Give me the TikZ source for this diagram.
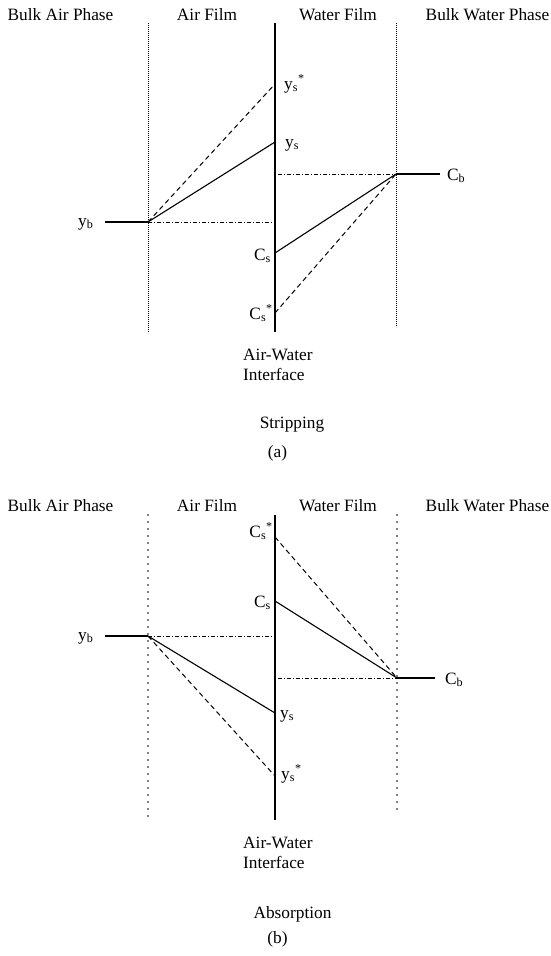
\documentclass[tikz,border=0pt]{standalone}
\usepackage{fontspec}
\setmainfont{Liberation Serif}
\usetikzlibrary{positioning}

\begin{document}
\begin{tikzpicture}[x=1pt, y=-1pt,
            every node/.style={font=\fontsize{17.3}{20}\selectfont, inner sep=0pt},
            head/.style={anchor=base},
            interface/.style={line width=1.1pt},
            thinfilm/.style={line width=0.8pt, dash pattern=on 0.8pt off 1.2pt},
            dotfilm/.style={line width=1.7pt, line cap=round, dash pattern=on 0pt off 7pt},
            profile/.style={line width=1.1pt},
            equil/.style={line width=1pt, dash pattern=on 5pt off 3.5pt},
            level/.style={line width=0.9pt, dash pattern=on 4pt off 2pt on 1pt off 2pt}]
            \useasboundingbox (0,0) rectangle (551,956);

            % (a) Stripping
            \node[head] (bapA) at (60.5,20) {Bulk Air Phase};
            \node[head] (afA) at (207,20) {Air Film};
            \node[head] (wfA) at (338,20) {Water Film};
            \node[head] (bwpA) at (487.5,20) {Bulk Water Phase};

            \draw[thinfilm] (148,23) -- (148,333);
            \draw[thinfilm] (396,23) -- (396,327);
            \draw[interface] (275,23) -- (275,332);

            \coordinate (ybA) at (148,222);
            \coordinate (ybendA) at (105,222);
            \coordinate (yblevelA) at (275,222);
            \coordinate (ysA) at (275,142);
            \coordinate (ysstarA) at (275,84);
            \coordinate (CbA) at (396,174);
            \coordinate (CbendA) at (440,174);
            \coordinate (CblevelA) at (278,174);
            \coordinate (CsA) at (275,253);
            \coordinate (CsstarA) at (275,313);

            \draw[profile] (ybendA) -- (ybA);
            \draw[level] (ybA) -- (yblevelA);
            \draw[profile] (ybA) -- (ysA);
            \draw[equil] (ybA) -- (ysstarA);
            \draw[profile] (CbA) -- (CbendA);
            \draw[level] (CblevelA) -- (CbA);
            \draw[profile] (CsA) -- (CbA);
            \draw[equil] (CsstarA) -- (CbA);

            \node[anchor=base west] (ysstarlabA) at (284,89) {y\textsubscript{s}\textsuperscript{*}};
            \node[anchor=base west] (yslabA) at (285,147) {y\textsubscript{s}};
            \node[anchor=base west] (yblabA) at (78,226) {y\textsubscript{b}};
            \node[anchor=base west] (CblabA) at (447,180) {C\textsubscript{b}};
            \node[anchor=base east] (CslabA) at (271,260) {C\textsubscript{s}};
            \node[anchor=base east] (CsstarlabA) at (273,319) {C\textsubscript{s}\textsuperscript{*}};

            \node[anchor=base west] (awA) at (243,360) {Air-Water};
            \node[anchor=base west] (ifA) at (243,380) {Interface};
            \node[head] (stripA) at (292,428) {Stripping};
            \node[head] (tagA) at (277.5,457) {(a)};

            % (b) Absorption
            \node[head] (bapB) at (60.5,511) {Bulk Air Phase};
            \node[head] (afB) at (207,511) {Air Film};
            \node[head] (wfB) at (338,511) {Water Film};
            \node[head] (bwpB) at (487.5,511) {Bulk Water Phase};

            \draw[dotfilm] (148,515) -- (148,820);
            \draw[dotfilm] (397,515) -- (397,812);
            \draw[interface] (275,515) -- (275,820);

            \coordinate (ybB) at (148,636);
            \coordinate (ybendB) at (105,636);
            \coordinate (yblevelB) at (275,636);
            \coordinate (ysB) at (275,713);
            \coordinate (ysstarB) at (275,776);
            \coordinate (CbB) at (397,678);
            \coordinate (CbendB) at (435,678);
            \coordinate (CblevelB) at (278,678);
            \coordinate (CsB) at (275,601);
            \coordinate (CsstarB) at (275,537);

            \draw[profile] (ybendB) -- (ybB);
            \draw[level] (ybB) -- (yblevelB);
            \draw[profile] (ybB) -- (ysB);
            \draw[equil] (ybB) -- (ysstarB);
            \draw[profile] (CbB) -- (CbendB);
            \draw[level] (CblevelB) -- (CbB);
            \draw[profile] (CsB) -- (CbB);
            \draw[equil] (CsstarB) -- (CbB);

            \node[anchor=base east] (CsstarlabB) at (273,537) {C\textsubscript{s}\textsuperscript{*}};
            \node[anchor=base east] (CslabB) at (271,607) {C\textsubscript{s}};
            \node[anchor=base west] (yblabB) at (78,640) {y\textsubscript{b}};
            \node[anchor=base west] (CblabB) at (445,684) {C\textsubscript{b}};
            \node[anchor=base west] (yslabB) at (280,718) {y\textsubscript{s}};
            \node[anchor=base west] (ysstarlabB) at (281,779) {y\textsubscript{s}\textsuperscript{*}};

            \node[anchor=base west] (awB) at (243,848) {Air-Water};
            \node[anchor=base west] (ifB) at (243,868) {Interface};
            \node[head] (absB) at (292.5,918) {Absorption};
            \node[head] (tagB) at (277.5,943) {(b)};
\end{tikzpicture}
\end{document}
